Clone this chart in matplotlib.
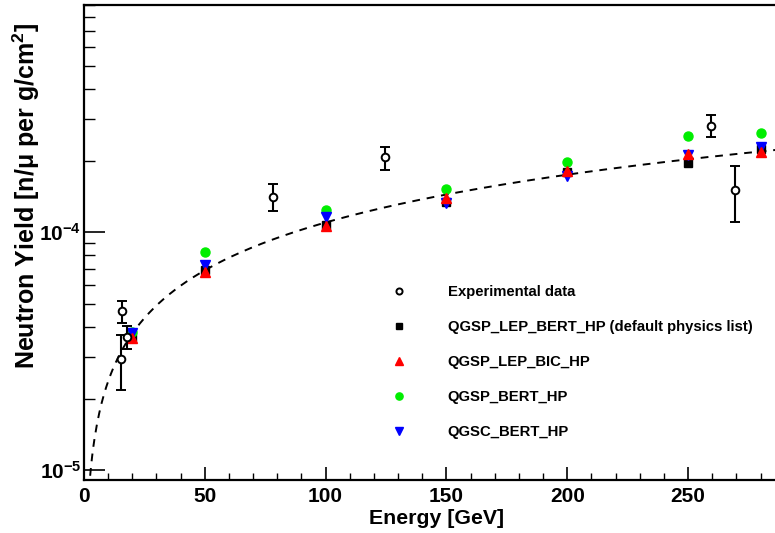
import numpy as np
import matplotlib
matplotlib.use("Agg")
import matplotlib.pyplot as plt
from matplotlib.ticker import LogLocator, FuncFormatter, NullFormatter, MultipleLocator

plt.rcParams['font.family'] = ['Liberation Sans', 'DejaVu Sans']
plt.rcParams['font.weight'] = 'bold'
plt.rcParams['mathtext.fontset'] = 'custom'
plt.rcParams['mathtext.rm'] = 'Liberation Sans:bold'
plt.rcParams['mathtext.bf'] = 'Liberation Sans:bold'
plt.rcParams['mathtext.it'] = 'Liberation Sans:bold'

# ---- data ----
exp_energy = [15.6, 17.6, 15.2, 78.2, 124.6, 259.5, 269.6]
exp_yield = [4.65e-5, 3.62e-5, 2.94e-5, 1.41e-4, 2.06e-4, 2.80e-4, 1.50e-4]
exp_err = [5.1e-6, 4.0e-6, 7.6e-6, 1.8e-5, 2.3e-5, 3.0e-5, 4.0e-5]

sim_energy = [20, 50, 100, 150, 200, 250, 280]
qgsp_lep_bert_hp = [3.62e-5, 6.94e-5, 1.073e-4, 1.345e-4, 1.79e-4, 1.95e-4, 2.23e-4]
qgsp_lep_bic_hp = [3.59e-5, 6.79e-5, 1.063e-4, 1.39e-4, 1.81e-4, 2.13e-4, 2.18e-4]
qgsp_bert_hp = [3.82e-5, 8.26e-5, 1.24e-4, 1.525e-4, 1.97e-4, 2.54e-4, 2.60e-4]
qgsc_bert_hp = [3.76e-5, 7.29e-5, 1.156e-4, 1.33e-4, 1.72e-4, 2.11e-4, 2.29e-4]

# power-law fit  Y = a * E^b
fit_a = 5.09e-6
fit_b = 0.667

labels = ["Experimental data",
          "QGSP_LEP_BERT_HP (default physics list)",
          "QGSP_LEP_BIC_HP",
          "QGSP_BERT_HP",
          "QGSC_BERT_HP"]

fig = plt.figure(figsize=(7.75, 5.33), dpi=100)
ax = fig.add_axes([84/775, 53/533, 1 - 84/775, 475/533])

E = np.linspace(1.0, 290, 600)
ax.plot(E, fit_a * E**fit_b, color='black', lw=1.4, ls=(0, (4, 3.5)), zorder=1)

h_sq, = ax.plot(sim_energy, qgsp_lep_bert_hp, 's', color='black', ms=6, ls='none', zorder=3)
h_tu, = ax.plot(sim_energy, qgsp_lep_bic_hp, '^', color='#ff0000', ms=6.5, ls='none', zorder=4)
h_gc, = ax.plot(sim_energy, qgsp_bert_hp, 'o', color='#00ee00', ms=6.5, ls='none', zorder=3)
h_td, = ax.plot(sim_energy, qgsc_bert_hp, 'v', color='#0000ff', ms=6.5, ls='none', zorder=3.5)

eb = ax.errorbar(exp_energy, exp_yield, yerr=exp_err, fmt='o', mfc='white', mec='black',
                 mew=1.4, ms=5.5, ecolor='black', elinewidth=1.5, capsize=3.5, capthick=1.5,
                 zorder=5)

ax.set_yscale('log')
ax.set_xlim(0, 286)
ax.set_ylim(9.1e-6, 9.0e-4)

ax.xaxis.set_major_locator(MultipleLocator(50))
ax.xaxis.set_minor_locator(MultipleLocator(10))
ax.yaxis.set_major_locator(LogLocator(base=10, numticks=10))
ax.yaxis.set_minor_locator(LogLocator(base=10, subs=np.arange(2, 10), numticks=20))
ax.yaxis.set_minor_formatter(NullFormatter())

def yfmt(v, pos):
    e = int(np.round(np.log10(v)))
    return r'$\mathdefault{10^{%d}}$' % e
ax.yaxis.set_major_formatter(FuncFormatter(yfmt))

ax.tick_params(axis='x', which='major', direction='in', length=9.5, width=1.2,
               labelsize=15, pad=5, top=False)
ax.tick_params(axis='x', which='minor', direction='in', length=4.8, width=1.0, top=False)
ax.tick_params(axis='y', which='major', direction='in', length=15, width=1.2,
               labelsize=15, pad=2, right=False)
ax.tick_params(axis='y', which='minor', direction='in', length=8, width=1.0, right=False)

for s in ['left', 'bottom', 'top']:
    ax.spines[s].set_linewidth(1.6)
ax.spines['right'].set_visible(False)

ax.set_xlabel('Energy [GeV]', fontsize=15.3, fontweight='bold')
ax.xaxis.set_label_coords((437 - 84) / 691, -0.061)
ax.set_ylabel(r'Neutron Yield [n/μ per g/cm$^{2}$]', fontsize=18, fontweight='bold')
ax.yaxis.set_label_coords((42 - 84) / 691, (480 - 196) / 475)

leg = ax.legend([eb[0], h_sq, h_tu, h_gc, h_td], labels,
                loc='upper left',
                frameon=False, fontsize=10.7, markerscale=0.8,
                handlelength=1.0, handletextpad=2.75, labelspacing=1.41,
                borderpad=0, borderaxespad=0)
leg.set_bbox_to_anchor((392/775, 1 - 285/533), transform=fig.transFigure)
for t in leg.get_texts():
    t.set_fontweight('bold')

fig.savefig('out.png', dpi=100)
